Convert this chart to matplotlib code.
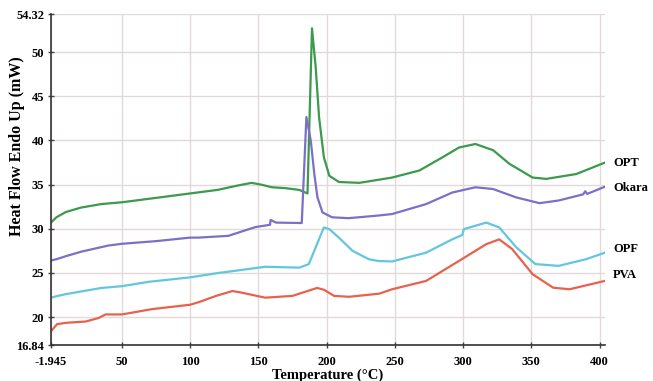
import matplotlib
matplotlib.use("Agg")
import matplotlib.pyplot as plt

# ---- data ----
opt_t = [-1.945, 2, 9, 20, 35, 50, 75, 100, 120, 135, 145, 152, 160, 170, 180, 186,
         189.3, 192, 194.5, 198, 202, 209, 224, 248, 268, 285, 297, 309, 322, 334,
         351, 361, 383, 404]
opt_v = [30.7, 31.3, 31.9, 32.4, 32.8, 33.0, 33.5, 34.0, 34.4, 34.9, 35.2, 35.0, 34.7,
         34.6, 34.4, 34.0, 52.7, 48.3, 42.6, 38.1, 36.0, 35.3, 35.2, 35.8, 36.6, 38.1,
         39.2, 39.6, 38.9, 37.35, 35.8, 35.65, 36.2, 37.5]

okara_t = [-1.945, 3, 9, 20, 40, 50, 75, 100, 106, 128, 148, 158.5, 159, 163, 181.8,
           185.2, 188.4, 191, 193.3, 197, 204, 216, 238, 248, 273, 292, 309, 322, 339,
           356, 370, 388, 389.5, 391, 404]
okara_v = [26.4, 26.6, 26.9, 27.4, 28.1, 28.3, 28.6, 29.0, 29.0, 29.2, 30.2, 30.45, 31.0,
           30.7, 30.65, 42.65, 40.0, 36.2, 33.55, 31.85, 31.3, 31.2, 31.5, 31.67, 32.8,
           34.1, 34.7, 34.5, 33.55, 32.9, 33.2, 33.9, 34.25, 33.95, 34.77]

opf_t = [-1.945, 3, 9, 35, 50, 70, 100, 121, 131, 155, 180, 187, 192, 198, 202, 209,
         219, 231, 238, 248, 273, 292, 299.5, 300.5, 317, 326.5, 339, 353, 370, 390, 404]
opf_v = [22.2, 22.4, 22.6, 23.3, 23.5, 24.0, 24.5, 25.0, 25.2, 25.7, 25.6, 26.0, 27.9,
         30.15, 29.96, 29.0, 27.5, 26.55, 26.35, 26.3, 27.3, 28.8, 29.3, 29.96, 30.7,
         30.15, 27.9, 26.0, 25.8, 26.55, 27.3]

pva_t = [-1.945, 2.5, 9, 23.5, 33, 38, 50, 72, 100, 106.5, 119, 131, 138, 155, 175, 193,
         198, 205.5, 216.5, 238.5, 248, 273, 297, 317, 326.5, 336, 351, 366, 378, 404]
pva_v = [18.4, 19.2, 19.35, 19.5, 19.9, 20.3, 20.3, 20.9, 21.4, 21.7, 22.4, 22.95, 22.76,
         22.2, 22.4, 23.3, 23.1, 22.4, 22.3, 22.65, 23.15, 24.1, 26.36, 28.26, 28.8, 27.7,
         24.85, 23.33, 23.15, 24.1]

series_names = ["OPT", "Okara", "OPF", "PVA"]
label_y = [37.5, 34.66, 27.7, 24.8]
colors = ["#3b9a4c", "#7c70c6", "#62c6df", "#e8614d"]

x_ticks = [-1.945, 50, 100, 150, 200, 250, 300, 350, 400]
x_tick_labels = ["-1.945", "50", "100", "150", "200", "250", "300", "350", "400"]
y_ticks = [16.84, 20, 25, 30, 35, 40, 45, 50, 54.32]
y_tick_labels = ["16.84", "20", "25", "30", "35", "40", "45", "50", "54.32"]

# ---- plot ----
plt.rcParams['font.family'] = ['Liberation Serif', 'DejaVu Serif']
fig = plt.figure(figsize=(6.53, 3.81), dpi=100)
ax = fig.add_axes([51/653, 36/381, (605-51)/653, (367-36)/381])

data = [(opt_t, opt_v), (okara_t, okara_v), (opf_t, opf_v), (pva_t, pva_v)]
for (t, v), c in zip(data, colors):
    ax.plot(t, v, color=c, lw=1.6, solid_joinstyle='round')

ax.set_xlim(-1.945, 404)
ax.set_ylim(16.84, 54.32)
ax.set_xticks(x_ticks)
ax.set_xticklabels(x_tick_labels, fontsize=9, fontweight='bold')
ax.set_yticks(y_ticks)
ax.set_yticklabels(y_tick_labels, fontsize=9, fontweight='bold')
ax.tick_params(axis='both', direction='inout', length=4, width=1, color='#444444')
ax.tick_params(axis='x', pad=6)
ax.tick_params(axis='y', pad=3)

ax.grid(True, color='#e2d9d9', lw=1)
ax.set_axisbelow(True)
for s in ['top', 'right']:
    ax.spines[s].set_visible(False)
for s in ['left', 'bottom']:
    ax.spines[s].set_color('#333333')
    ax.spines[s].set_linewidth(1.2)

for name, yy in zip(series_names, label_y):
    ax.text(410, yy, name, fontsize=9, fontweight='bold', va='center', ha='left',
            clip_on=False)

ax.set_ylabel("Heat Flow Endo Up (mW)", fontsize=11.5, fontweight='bold')
ax.yaxis.set_label_coords(-0.047, 0.60)
ax.set_xlabel("Temperature (\u00b0C)", fontsize=10.5, fontweight='bold', labelpad=0)

fig.savefig("out.png", dpi=100, facecolor='white')
